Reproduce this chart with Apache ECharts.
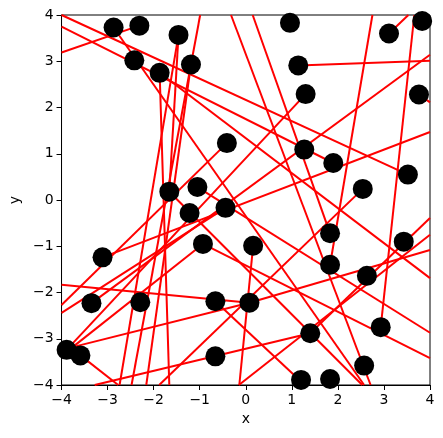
<!DOCTYPE html>
<html>
<head>
<meta charset="utf-8">
<script src="https://cdn.jsdelivr.net/npm/echarts@6/dist/echarts.min.js"></script>
<style>
html,body{margin:0;padding:0;background:#fff;}
#chart{width:443px;height:438px;}
</style>
</head>
<body>
<div id="chart"></div>
<script>
// Scatter points
var pointX = [-2.87,-2.31,-2.42,-1.87,-1.46,-1.19,0.96,1.14,1.30,3.11,3.83,3.76,-0.41,1.27,1.90,-1.66,-1.05,-1.22,-0.44,2.54,3.52,-3.11,-0.93,0.16,1.83,3.43,-3.35,-2.29,-0.66,0.08,1.83,2.63,-3.89,-3.59,-0.66,1.40,2.93,2.57,1.20,1.83];
var pointY = [3.73,3.77,3.02,2.75,3.57,2.93,3.83,2.91,2.29,3.60,3.87,2.28,1.23,1.09,0.80,0.18,0.28,-0.28,-0.17,0.24,0.55,-1.24,-0.95,-0.99,-0.72,-0.90,-2.23,-2.21,-2.19,-2.22,-1.40,-1.64,-3.24,-3.36,-3.38,-2.88,-2.75,-3.58,-3.89,-3.87];

// Red line segments: start (x0,y0) to end (x1,y1)
var segX0 = [-4,-4,-4,-2.87,-1.87,-0.99,-0.32,0.15,2.75,3.66,3.11,1.14,4,3.76,-3.11,1.30,-0.41,-4,0.08,-4,-0.93,-1.66,1.40,-0.15,2.54,0.16,1.40,-3.59,-0.93,0.08,-0.66,-1.05,-1.46,-1.19,-1.87,-1.66];
var segY0 = [4,3.75,3.19,3.73,2.75,4,4,4,4,4,3.60,2.91,3.14,2.28,-1.24,2.29,1.23,-1.83,-2.22,-2.44,-0.95,0.18,-2.88,-4,0.24,-0.99,-2.88,-3.36,-0.95,-2.22,-2.19,0.28,3.57,2.93,2.75,0.18];
var segX1 = [3.52,1.90,-2.31,2.57,4,-2.48,2.71,1.83,1.83,2.93,3.53,4,-3.35,4,4,-3.89,-4,0.08,4,-0.44,4,2.53,4,4,-1.88,-0.14,-3.28,-2.77,-4,-4,1.28,4,-2.74,-2.16,-1.66,-1.46];
var segY1 = [0.55,0.80,3.77,-4,-1.69,-4,-4,-0.72,-1.40,-2.75,4,3.01,-2.23,2.11,1.47,-3.24,-2.27,-2.22,-1.08,-0.17,-3.42,-4,-0.39,-0.75,-4,-4,-4,-4,-3.37,-3.24,-4,-2.87,-4,-4,-4,3.57];

var tickValues = [-4,-3,-2,-1,0,1,2,3,4];

var chart = echarts.init(document.getElementById('chart'), null, {renderer:'canvas'});
var series = [];
for (var i = 0; i < segX0.length; i++) {
  series.push({
    type: 'line',
    data: [[segX0[i], segY0[i]], [segX1[i], segY1[i]]],
    symbol: 'none',
    silent: true,
    clip: true,
    lineStyle: {color: '#ff0000', width: 2},
    z: 2,
    animation: false
  });
}
var pts = [];
for (var j = 0; j < pointX.length; j++) pts.push([pointX[j], pointY[j]]);
series.push({
  type: 'scatter',
  data: pts,
  symbol: 'circle',
  symbolSize: 20,
  itemStyle: {color: '#000000', opacity: 1},
  silent: true,
  z: 5,
  animation: false
});

function fmt(v){ return (v < 0 ? '\u2212' + Math.abs(v) : String(v)); }
var font = 'DejaVu Sans';
var axisCommon = {
  type: 'value',
  min: -4, max: 4, interval: 1,
  axisLine: {show: true, onZero: false, lineStyle: {color: '#000', width: 1}},
  axisTick: {show: true, inside: false, length: 5, lineStyle: {color: '#000', width: 1}},
  axisLabel: {color: '#000', fontFamily: font, fontSize: 14, margin: 8, formatter: fmt},
  splitLine: {show: false},
  nameLocation: 'middle',
  nameTextStyle: {color: '#000', fontFamily: font, fontSize: 14}
};

chart.setOption({
  animation: false,
  backgroundColor: '#ffffff',
  grid: {left: 60, top: 15, width: 370, height: 370, show: true, borderColor: '#000', borderWidth: 1, backgroundColor: 'transparent'},
  xAxis: Object.assign({}, axisCommon, {name: 'x', nameGap: 27}),
  yAxis: Object.assign({}, axisCommon, {name: 'y', nameGap: 37}),
  series: series
});
</script>
</body>
</html>
